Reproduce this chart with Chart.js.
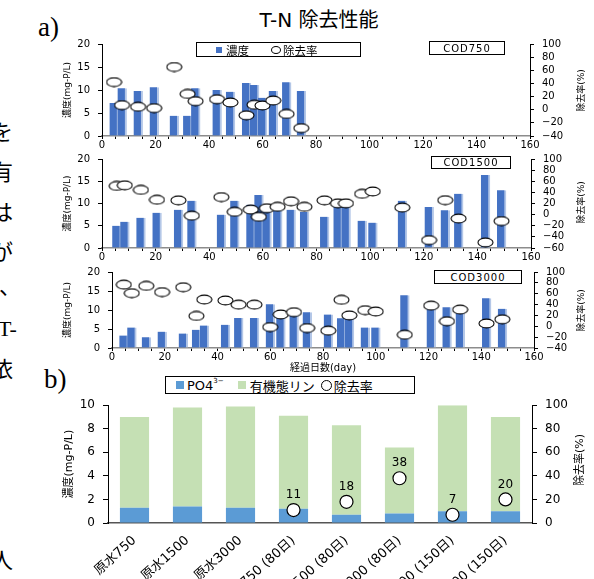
<!DOCTYPE html>
<html>
<head>
<meta charset="utf-8">
<script src="https://cdn.jsdelivr.net/npm/chart.js@4.4.1/dist/chart.umd.min.js"></script>
<style>
  body { margin: 0; width: 594px; height: 579px; position: relative; background: #fff; overflow: hidden;
         font-family: 'DejaVu Sans', 'Noto Sans CJK JP', sans-serif; color: #000; }
  .abs { position: absolute; }
  .side { position: absolute; font-family: 'Liberation Serif', 'Noto Sans CJK JP', serif; font-size: 22px; line-height: 1; }
  .box { position: absolute; border: 1px solid #000; background: #fff; box-sizing: border-box;
         display: flex; align-items: center; white-space: nowrap; }
  .rtitle { position: absolute; transform: rotate(-90deg); transform-origin: center; white-space: nowrap; text-align: center; }
</style>
</head>
<body>

<!-- cut-off text of the page at left margin -->
<div class="side" style="left:-9px;top:122px">を</div>
<div class="side" style="left:-9px;top:162px">有</div>
<div class="side" style="left:-9px;top:202px">は</div>
<div class="side" style="left:-9px;top:242px">が</div>
<div class="side" style="left:-1px;top:276px">、</div>
<div class="side" style="left:-2px;top:318px">T-</div>
<div class="side" style="left:-9px;top:359px">依</div>
<div class="side" style="left:-9px;top:550px">人</div>

<div class="abs" style="left:38px;top:12px;font:27px 'Liberation Serif',serif">a)</div>
<div class="abs" style="left:44px;top:364px;font:27px 'Liberation Serif',serif">b)</div>
<div class="abs" style="left:0;width:638px;top:4px;text-align:center;font-size:20px">T-N 除去性能</div>

<canvas id="c1" class="abs" style="left:40px;top:30px" width="554" height="122"></canvas>
<canvas id="c2" class="abs" style="left:40px;top:145px" width="554" height="119"></canvas>
<canvas id="c3" class="abs" style="left:40px;top:258px" width="554" height="118"></canvas>
<canvas id="c4" class="abs" style="left:40px;top:390px" width="554" height="189"></canvas>

<!-- legends and labels -->
<div class="box" style="left:196px;top:42px;width:165px;height:15px;font-size:11.5px">
  <span style="display:inline-block;width:6px;height:6px;background:#4472C4;margin-left:19px;margin-right:4px"></span>濃度
  <span style="display:inline-block;width:8px;height:6px;border:1px solid #000;border-radius:50%;margin-left:22px;margin-right:2px"></span>除去率
</div>
<div class="box" style="left:429px;top:41px;width:76px;height:14px;font-size:10px;justify-content:center;letter-spacing:1px">COD750</div>
<div class="box" style="left:431px;top:156px;width:80px;height:13px;font-size:10px;justify-content:center;letter-spacing:1px">COD1500</div>
<div class="box" style="left:434px;top:270px;width:88px;height:14px;font-size:10px;justify-content:center;letter-spacing:1px">COD3000</div>

<div class="box" style="left:165px;top:376px;width:250px;height:18px;font-size:13px">
  <span style="display:inline-block;width:8px;height:8px;background:#5B9BD5;margin-left:10px;margin-right:3px"></span>PO4<span style="position:relative;top:-4px;font-size:7px">3−</span>
  <span style="display:inline-block;width:8px;height:8px;background:#C5E0B4;margin-left:14px;margin-right:4px"></span>有機態リン
  <span style="display:inline-block;width:9px;height:9px;border:1px solid #000;border-radius:50%;margin-left:6px;margin-right:2px"></span>除去率
</div>

<div class="rtitle" style="left:552px;top:84px;width:56px;font-size:9px">除去率(%)</div>
<div class="rtitle" style="left:552px;top:196px;width:56px;font-size:9px">除去率(%)</div>
<div class="rtitle" style="left:552px;top:304px;width:56px;font-size:9px">除去率(%)</div>
<div class="rtitle" style="left:546px;top:452px;width:64px;font-size:11px">除去率(%)</div>

<script>
// ---- a) COD750 ----
const days750 = [4.5, 7.5, 13.5, 19.5, 27, 32, 35, 43, 48, 54, 57, 60, 64, 69, 74.5];
const conc750 = [7.2, 10.4, 9.8, 10.6, 4.4, 4.4, 10.4, 10.0, 9.6, 11.5, 11.1, 8.3, 9.8, 11.7, 9.8];
const rate750 = [42, 7, 4.5, 2.5, 65, 24, 13, 16, 11, -8.5, 7.5, 6.5, 14, -6.5, -28];

// ---- a) COD1500 ----
const days1500 = [5.5, 8.5, 14.5, 20.5, 28.5, 33.5, 44.5, 49.5, 55.5, 58.5, 61.5, 65.5, 70.5, 75.5,
                  83, 88, 91, 97, 101, 112, 122, 128, 133, 143, 149];
const conc1500 = [5.0, 5.9, 6.8, 7.9, 8.6, 10.6, 7.5, 10.6, 9.7, 11.9, 8.6, 8.8, 8.6, 8.1,
                  7.0, 9.4, 9.4, 6.1, 5.7, 10.6, 9.2, 8.5, 12.2, 16.4, 13.0];
const rate1500 = [51.5, 52.7, 44.4, 26.7, 25.7, -2, 31.5, 5, 9, -4, 11.5, 14, 24, 14,
                  25.7, 20.3, 20.3, 37.4, 41.6, 12.6, -45.8, 26, -7, -50, -11.5];

// ---- a) COD3000 ----
const days3000 = [4.5, 7.5, 13, 19, 27, 32, 35, 43, 48, 54, 60, 64, 69, 74,
                  82, 87, 90, 96, 100, 111, 121, 127, 132, 142, 148];
const conc3000 = [3.3, 5.4, 2.8, 4.3, 3.8, 4.8, 5.9, 6.1, 7.9, 7.9, 11.5, 8.4, 9.1, 9.4,
                  8.8, 7.8, 9.5, 5.4, 5.4, 13.9, 11.1, 10.7, 10.1, 13.1, 10.3];
const rate3000 = [76.7, 61, 74.4, 63, 72, 19, 49.3, 47.6, 39.8, 39.8, -1.4, 21.8, 26, -3.2,
                  -8, 48.7, 20, 29.7, 27.2, -15.7, 38, 9.3, 30.8, 5.2, 12.9];

// ---- b) ----
const catsB = ['原水750', '原水1500', '原水3000', '750 (80日)', '1500 (80日)', '3000 (80日)', '1500 (150日)', '3000 (150日)'];
const po4B = [1.3, 1.4, 1.3, 1.2, 0.7, 0.8, 1.0, 1.0];
const orgB = [7.7, 8.4, 8.6, 7.9, 7.6, 5.6, 9.0, 8.0];
const rateB = [null, null, null, 11, 18, 38, 7, 20];

const FONT = "'DejaVu Sans', 'Noto Sans CJK JP', sans-serif";
Chart.defaults.font.family = FONT;
Chart.defaults.color = '#000';
Chart.defaults.animation = false;

// ellipse marker used in panel a
const ell = document.createElement('canvas');
ell.width = 17; ell.height = 11;
(function () {
    const g = ell.getContext('2d');
    g.beginPath();
    g.ellipse(8.5, 5.5, 7.5, 4.4, 0, 0, Math.PI * 2);
    g.fillStyle = '#fff';
    g.fill();
    g.lineWidth = 1.1;
    g.strokeStyle = '#000';
    g.stroke();
})();

const minus = v => v < 0 ? '−' + (-v) : v;

function panelA(id, days, conc, rate, rMin, leftW, rightW, xH, xTitle) {
    new Chart(document.getElementById(id), {
        type: 'bar',
        data: {
            datasets: [{
                type: 'line',
                data: days.map((d, i) => ({ x: d, y: rate[i] })),
                yAxisID: 'y1',
                showLine: false,
                pointStyle: ell,
                pointRadius: 7,
                order: 0
            }, {
                type: 'bar',
                data: days.map((d, i) => ({ x: d, y: conc[i] })),
                yAxisID: 'y',
                backgroundColor: '#4472C4',
                borderColor: '#B4C7E7',
                borderWidth: { left: 0, right: 2, top: 0, bottom: 0 },
                barThickness: 9,
                order: 1
            }]
        },
        options: {
            responsive: false,
            layout: { padding: { top: 12, left: 0, right: 0, bottom: 0 } },
            plugins: { legend: { display: false }, tooltip: { enabled: false } },
            scales: {
                x: {
                    type: 'linear', min: 0, max: 160, offset: false,
                    ticks: { stepSize: 5, autoSkip: false, maxRotation: 0, padding: 0,
                             font: { size: 10 }, callback: v => v % 20 === 0 ? v : '' },
                    grid: { drawOnChartArea: false, offset: false, tickLength: 3, color: '#000' },
                    border: { color: '#8c8c8c', width: 1.5 },
                    title: { display: !!xTitle, text: xTitle || '', font: { size: 10 }, padding: { top: 0, bottom: 2 } },
                    afterFit: s => { s.height = xH; }
                },
                y: {
                    min: 0, max: 20,
                    ticks: { stepSize: 5, autoSkip: false, padding: 8, font: { size: 10 } },
                    grid: { drawOnChartArea: false, tickLength: 4, color: '#000' },
                    border: { color: '#000' },
                    title: { display: true, text: '濃度(mg-P/L)', font: { size: 9 }, padding: { top: 22, bottom: 0 } },
                    afterFit: s => { s.width = leftW; }
                },
                y1: {
                    position: 'right', min: rMin, max: 100,
                    ticks: { stepSize: 20, autoSkip: false, padding: 8, font: { size: 10 }, callback: minus },
                    grid: { drawOnChartArea: false, tickLength: 4, color: '#000' },
                    border: { color: '#000' },
                    afterFit: s => { s.width = rightW; }
                }
            }
        }
    });
}

panelA('c1', days750, conc750, rate750, -40, 62, 64, 16);
panelA('c2', days1500, conc1500, rate1500, -60, 62, 63, 16);
panelA('c3', days3000, conc3000, rate3000, -40, 72, 60, 28, '経過日数(day)');

// value labels above the circles in b)
const rateLabels = {
    id: 'rateLabels',
    afterDatasetsDraw(chart) {
        const ctx = chart.ctx;
        const meta = chart.getDatasetMeta(0);
        ctx.save();
        ctx.font = '12px ' + FONT;
        ctx.fillStyle = '#000';
        ctx.textAlign = 'center';
        ctx.textBaseline = 'bottom';
        meta.data.forEach((pt, i) => {
            const v = rateB[i];
            if (v === null) return;
            ctx.fillText(v, pt.x, pt.y - 9);
        });
        ctx.restore();
    }
};

new Chart(document.getElementById('c4'), {
    type: 'bar',
    data: {
        labels: catsB,
        datasets: [{
            type: 'line',
            label: '除去率',
            data: rateB,
            yAxisID: 'y1',
            showLine: false,
            pointRadius: 6.5,
            pointBackgroundColor: '#fff',
            pointBorderColor: '#000',
            pointBorderWidth: 1.2,
            order: 0
        }, {
            label: 'PO4',
            data: po4B,
            backgroundColor: '#5B9BD5',
            barPercentage: 0.55,
            categoryPercentage: 1,
            order: 1
        }, {
            label: '有機態リン',
            data: orgB,
            backgroundColor: '#C5E0B4',
            barPercentage: 0.55,
            categoryPercentage: 1,
            order: 2
        }]
    },
    options: {
        responsive: false,
        layout: { padding: { top: 12, left: 0, right: 0, bottom: 0 } },
        plugins: { legend: { display: false }, tooltip: { enabled: false } },
        scales: {
            x: {
                stacked: true,
                ticks: { autoSkip: false, minRotation: 42, maxRotation: 42, padding: 2, font: { size: 13 } },
                grid: { display: false },
                border: { color: '#555', width: 1.5 },
                afterFit: s => { s.height = 56; }
            },
            y: {
                stacked: true, min: 0, max: 10,
                ticks: { stepSize: 2, autoSkip: false, padding: 8, font: { size: 12 } },
                grid: { drawOnChartArea: false, tickLength: 5, color: '#000' },
                border: { color: '#000' },
                title: { display: true, text: '濃度(mg-P/L)', font: { size: 11 }, padding: { top: 23, bottom: 0 } },
                afterFit: s => { s.width = 68; }
            },
            y1: {
                position: 'right', min: 0, max: 100,
                ticks: { stepSize: 20, autoSkip: false, padding: 8, font: { size: 12 } },
                grid: { drawOnChartArea: false, tickLength: 5, color: '#000' },
                border: { color: '#000' },
                afterFit: s => { s.width = 62; }
            }
        }
    },
    plugins: [rateLabels]
});
</script>
</body>
</html>
